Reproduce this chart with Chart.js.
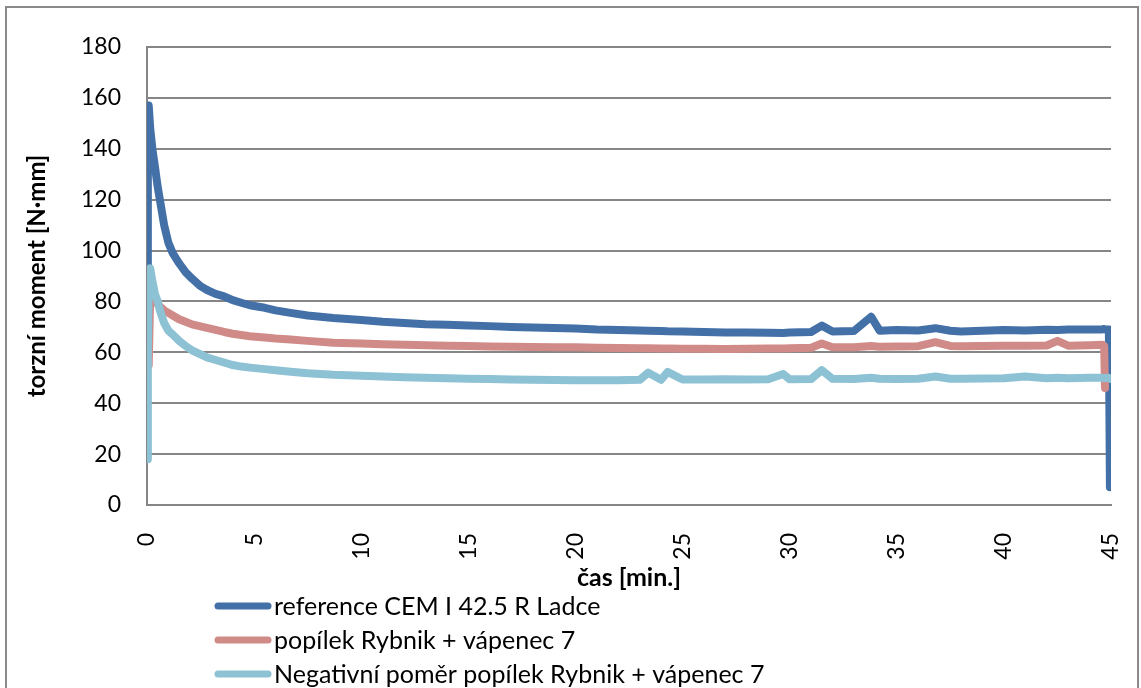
<!DOCTYPE html>
<html>
<head>
<meta charset="utf-8">
<script src="https://cdn.jsdelivr.net/npm/chart.js@4.4.1/dist/chart.umd.min.js"></script>
<style>
  html, body { margin: 0; padding: 0; background: #fff; }
  #wrap { position: relative; width: 1141px; height: 688px; overflow: hidden; }
  #frame { position: absolute; left: 5px; top: 6px; width: 1134px; height: 720px; border: 2px solid #8a8a8a; box-sizing: border-box; }
  canvas { position: absolute; left: 0; top: 0; }
</style>
</head>
<body>
<div id="wrap">
  <div id="frame"></div>
  <canvas id="myChart" width="1141" height="688"></canvas>
</div>
<script>
const ctx = document.getElementById("myChart")
const FONT = "Lato, 'Open Sans', sans-serif";

// čas [min.]
const cas = [0, 0.04, 0.08, 0.15, 0.25, 0.37, 0.5, 0.6, 0.8, 1.0, 1.2, 1.5, 1.8, 2.1, 2.5, 2.8, 3.2, 3.6, 4.0, 4.4, 4.8,
    5.5, 6, 6.7, 7.5, 8.7, 10, 11, 12, 13, 14, 15, 16, 17, 18, 19, 20, 21, 22, 23, 23.4, 24, 24.3, 25, 26, 27, 28, 29, 29.7,
    30, 31, 31.5, 32, 33, 33.8, 34.2, 35, 36, 36.8, 37.5, 38, 39, 40, 41, 42, 42.5, 43, 44, 44.6, 44.68, 44.72, 44.9, 44.95, 45.0, 45.05];

// torzní moment [N·mm]
const reference = [92, 150, 157, 148, 140, 133, 125, 120, 110, 103, 99, 95, 91.5, 89, 86, 84.5, 83, 82, 80.5, 79.5, 78.5,
    77.5, 76.5, 75.5, 74.5, 73.5, 72.7, 72, 71.5, 71, 70.8, 70.5, 70.3, 70, 69.8, 69.6, 69.4, 69, 68.8, 68.6, 68.5, 68.4, 68.3, 68.2, 68, 67.8, 67.8, 67.7, 67.6,
    67.8, 68, 70.5, 68.2, 68.4, 74, 68.5, 68.8, 68.6, 69.5, 68.5, 68.2, 68.5, 68.8, 68.6, 68.9, 68.8, 69, 69, 69, 69.2, 69, 69, 7, null, null];

const popilek = [null, null, 55, 82, 81, 80, 79, 78, 76.5, 75.5, 74.5, 73, 72, 71, 70.2, 69.6, 68.8, 68, 67.3, 66.8, 66.3,
    65.8, 65.4, 65, 64.5, 63.8, 63.5, 63.2, 63, 62.8, 62.6, 62.5, 62.3, 62.2, 62.1, 62, 62, 61.8, 61.7, 61.6, 61.6, 61.5, 61.5, 61.4, 61.4, 61.3, 61.4, 61.5, 61.5,
    61.6, 61.8, 63.5, 62, 62, 62.5, 62.2, 62.3, 62.4, 64, 62.5, 62.4, 62.5, 62.6, 62.6, 62.7, 64.5, 62.6, 62.8, 63, 62.5, 46, null, null, null, null];

const negativni = [18, 60, 88, 93, 88, 83, 80, 76.5, 71.5, 68.5, 67, 64.5, 62.5, 60.8, 59.2, 58, 57, 56, 55, 54.4, 54,
    53.4, 53, 52.4, 51.8, 51.2, 50.8, 50.5, 50.2, 50, 49.8, 49.6, 49.5, 49.3, 49.2, 49.1, 49, 49, 49, 49.2, 52, 49.2, 52.3, 49.3, 49.3, 49.4, 49.3, 49.4, 51.5,
    49.4, 49.5, 53, 49.6, 49.5, 50, 49.6, 49.5, 49.6, 50.5, 49.6, 49.6, 49.7, 49.8, 50.5, 49.8, 50, 49.8, 50, 50, 49.8, 49.9, 50, 49.7, 49.5, 19];

const names = ["reference CEM I 42.5 R Ladce", "popílek Rybnik + vápenec 7", "Negativní poměr popílek Rybnik + vápenec 7"];
const colors = ["#4470a8", "#d08b89", "#8dc1d4"];
const yTicks = [0, 20, 40, 60, 80, 100, 120, 140, 160, 180];

const toPoints = vals => cas.map((t, i) => ({ x: t, y: vals[i] }));

// legend drawn as a vertical list under the axis title
const legendList = {
    id: 'legendList',
    afterDraw(chart) {
        const c = chart.ctx;
        c.save();
        c.font = "25px " + FONT;
        c.textBaseline = 'middle';
        c.fillStyle = '#000';
        chart.data.datasets.forEach((ds, i) => {
            const y = 606 + i * 34;
            c.strokeStyle = ds.borderColor;
            c.lineWidth = 7;
            c.lineCap = 'round';
            c.beginPath();
            c.moveTo(218, y);
            c.lineTo(268, y);
            c.stroke();
            c.fillText(ds.label, 274, y + 1);
        });
        c.restore();
    }
};

const myChart = new Chart(ctx, {
    type: 'line',
    data: {
        datasets: [
            { label: names[0], data: toPoints(reference), borderColor: colors[0], order: 2 },
            { label: names[1], data: toPoints(popilek), borderColor: colors[1], order: 1 },
            { label: names[2], data: toPoints(negativni), borderColor: colors[2], order: 0 }
        ]
    },
    options: {
        responsive: false,
        animation: false,
        layout: { padding: { top: 47, right: 30, left: 0, bottom: 0 } },
        elements: {
            line: { borderWidth: 8, tension: 0, borderCapStyle: 'round', borderJoinStyle: 'round' },
            point: { radius: 0 }
        },
        scales: {
            x: {
                type: 'linear',
                min: 0,
                max: 45,
                afterFit: s => { s.height = 183; s.paddingRight = 0; },
                grid: { display: false },
                border: { display: true, color: '#868686', width: 2 },
                ticks: {
                    stepSize: 5,
                    minRotation: 90,
                    maxRotation: 90,
                    padding: 20,
                    color: '#000',
                    font: { family: FONT, size: 23 }
                },
                title: {
                    display: true,
                    text: 'čas [min.]',
                    color: '#000',
                    font: { family: FONT, size: 25, weight: 'bold' },
                    padding: { bottom: 95 }
                }
            },
            y: {
                min: 0,
                max: 180,
                afterFit: s => { s.width = 147; },
                afterBuildTicks: s => { s.ticks = yTicks.map(v => ({ value: v })); },
                grid: { color: '#868686', lineWidth: 2, drawTicks: false },
                border: { display: true, color: '#868686', width: 2 },
                ticks: {
                    padding: 26,
                    color: '#000',
                    font: { family: FONT, size: 23 }
                },
                title: {
                    display: true,
                    text: 'torzní moment [N·mm]',
                    color: '#000',
                    font: { family: FONT, size: 24, weight: 'bold' },
                    padding: { top: 23 }
                }
            }
        },
        plugins: {
            legend: { display: false },
            tooltip: { enabled: false }
        }
    },
    plugins: [legendList]
});
</script>
</body>
</html>
